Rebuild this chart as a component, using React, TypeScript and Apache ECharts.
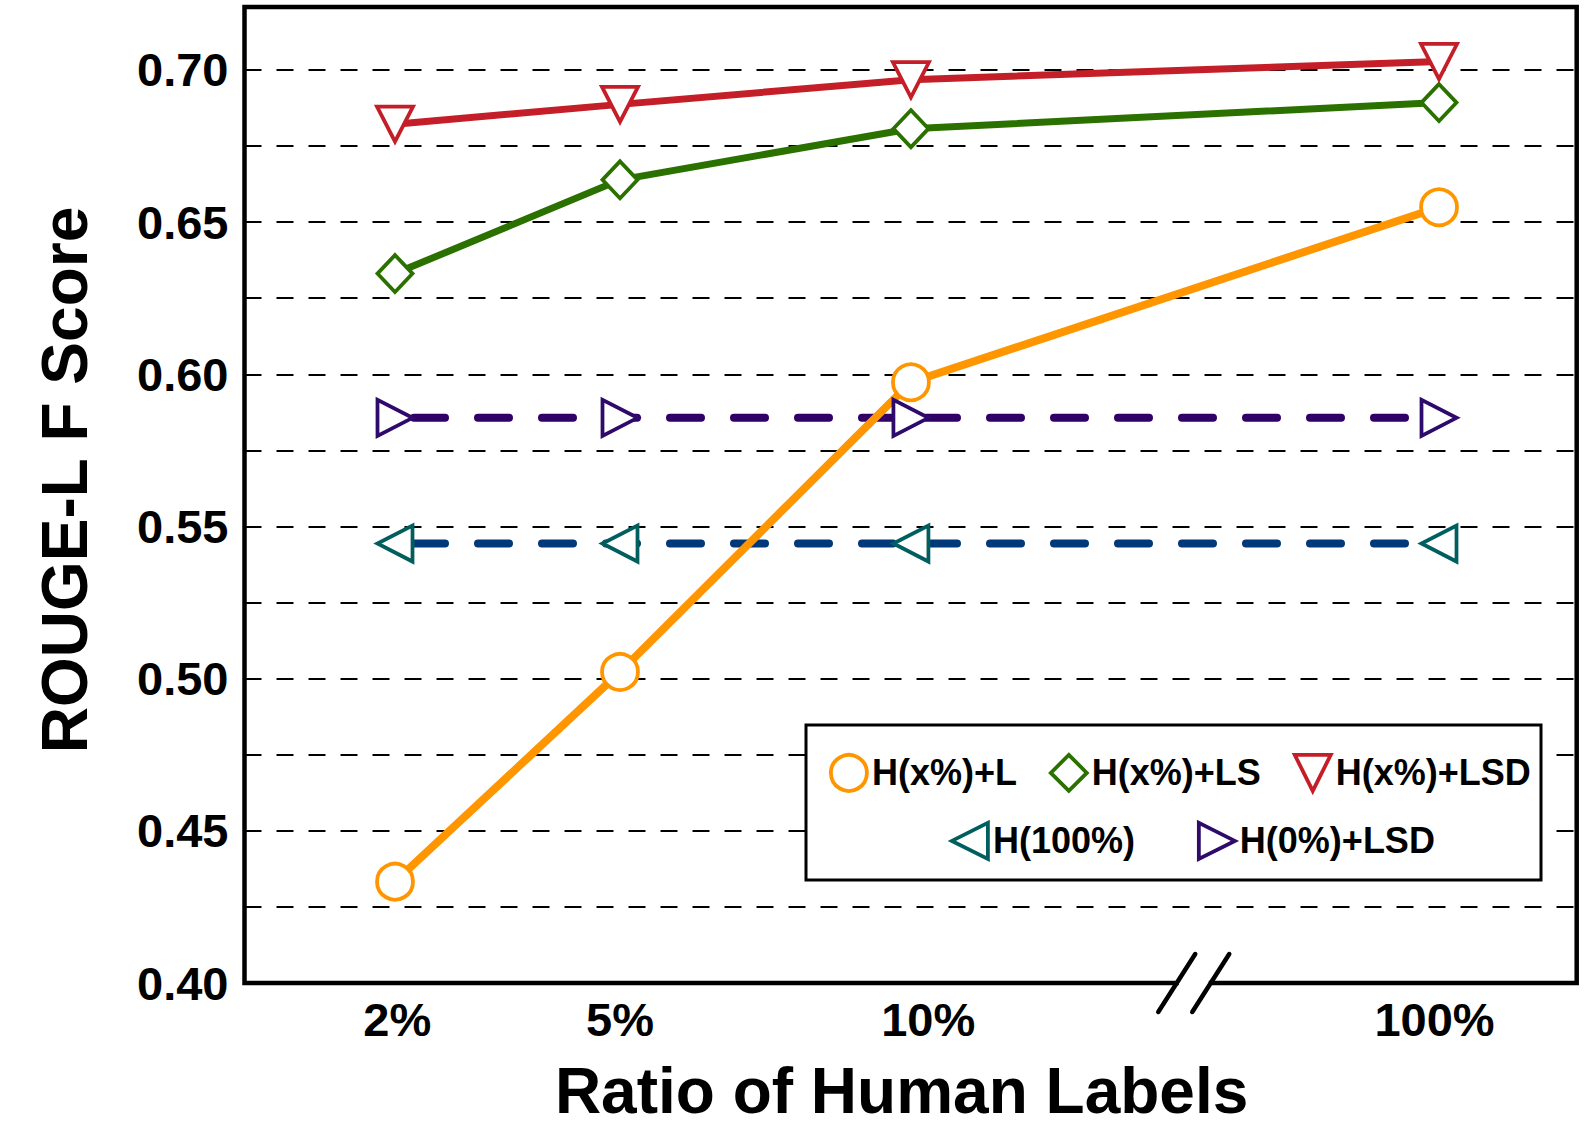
import React, { useEffect, useRef } from 'react';
import * as echarts from 'echarts';

// ---- data ----
const categories = ['2%', '5%', '10%', '100%'];
const xPositions = [0, 1, 2.293, 4.64];
const xTickPositions = [0.01, 1.0, 2.37, 4.62];
const yTickLabels = ['0.40', '0.45', '0.50', '0.55', '0.60', '0.65', '0.70'];
const seriesNames = ['H(x%)+L', 'H(x%)+LS', 'H(x%)+LSD', 'H(100%)', 'H(0%)+LSD'];
const hxL = [0.4333, 0.5022, 0.5974, 0.6549];
const hxLS = [0.6331, 0.6639, 0.6807, 0.6893];
const hxLSD = [0.6822, 0.6887, 0.6968, 0.7028];
const h100 = [0.5444, 0.5444, 0.5444, 0.5444];
const h0LSD = [0.5857, 0.5857, 0.5857, 0.5857];
const breakAt = 3.55;

const FONT = '"Liberation Sans", Arial, Helvetica, sans-serif';
const TRI_DOWN = 'path://M0,0L10,0L5,10Z';
const TRI_LEFT = 'path://M10,0L10,10L0,5Z';
const TRI_RIGHT = 'path://M0,0L0,10L10,5Z';

const C_ORANGE = '#FF9600';
const C_GREEN = '#2B7100';
const C_RED = '#C41F28';
const C_TEAL = '#005E5E';
const C_NAVY = '#00387A';
const C_PURPLE = '#2E0A6A';
const C_PURPLE_LINE = '#300066';

const toPairs = (vals: number[]) => xPositions.map((x, i) => [x, vals[i]]);

function makeSeries(
  name: string,
  vals: number[],
  symbol: string,
  symbolSize: number | number[],
  markerColor: string,
  lineColor: string,
  width: number,
  dashed: boolean,
) {
  return {
    name,
    type: 'line',
    data: toPairs(vals),
    symbol,
    symbolSize,
    showSymbol: true,
    showAllSymbol: true,
    lineStyle: dashed
      ? { color: lineColor, width, type: [31, 33], cap: 'round', dashOffset: 44.5 }
      : { color: lineColor, width, type: 'solid', cap: 'round', join: 'round' },
    itemStyle: { color: '#ffffff', borderColor: markerColor, borderWidth: 3.8 },
    emphasis: { disabled: true },
    silent: true,
  };
}

const legendItem = (name: string, icon: string, color: string) => ({
  name,
  icon,
  itemStyle: { color: '#ffffff', borderColor: color, borderWidth: 3.8 },
});

const legendCommon = {
  orient: 'horizontal',
  itemWidth: 36,
  itemHeight: 36,
  itemGap: 32,
  selectedMode: false,
  z: 10,
  padding: 0,
  textStyle: { fontSize: 36, fontWeight: 'bold', color: '#000', fontFamily: FONT },
};

export default function App() {
  const ref = useRef<HTMLDivElement>(null);

  useEffect(() => {
    document.body.style.margin = '0';
    document.body.style.overflow = 'hidden';
    const chart = echarts.init(ref.current as HTMLDivElement, null, { renderer: 'svg' });
    const option: any = {
      animation: false,
      backgroundColor: '#ffffff',
      grid: {
        left: 244.5,
        top: 7,
        right: 7.3,
        bottom: 165,
        show: true,
        borderColor: '#000',
        borderWidth: 4.5,
        backgroundColor: 'transparent',
      },
      xAxis: {
        type: 'value',
        min: -0.6689,
        max: 5.252,
        axisLine: { show: false },
        axisTick: { show: false },
        splitLine: { show: false },
        axisLabel: {
          customValues: xTickPositions,
          formatter: (v: number) => {
            const i = xTickPositions.findIndex((p) => Math.abs(p - v) < 1e-6);
            return i >= 0 ? categories[i] : '';
          },
          fontSize: 47,
          fontWeight: 'bold',
          color: '#000',
          fontFamily: FONT,
          margin: 13,
        },
        name: 'Ratio of Human Labels',
        nameLocation: 'middle',
        nameGap: 76,
        nameTextStyle: {
          fontSize: 64,
          fontWeight: 'bold',
          color: '#000',
          fontFamily: FONT,
          padding: [0, 18, 0, 0],
        },
      },
      yAxis: {
        type: 'value',
        min: 0.4,
        max: 0.7207,
        interval: 0.025,
        axisLine: { show: false },
        axisTick: { show: false },
        splitLine: { show: true, lineStyle: { color: '#000', width: 2, type: [17, 15] } },
        axisLabel: {
          showMaxLabel: false,
          formatter: (v: number) => {
            const s = v.toFixed(2);
            return yTickLabels.includes(s) && Math.abs(v * 40 - Math.round(v * 40)) < 1e-6 ? s : '';
          },
          fontSize: 47,
          fontWeight: 'bold',
          color: '#000',
          fontFamily: FONT,
          margin: 16,
        },
        name: 'ROUGE-L F Score',
        nameLocation: 'middle',
        nameGap: 148,
        nameTextStyle: {
          fontSize: 64,
          fontWeight: 'bold',
          color: '#000',
          fontFamily: FONT,
          padding: [0, 0, 0, 30],
        },
      },
      legend: [
        {
          ...legendCommon,
          left: 829,
          top: 753,
          data: [
            legendItem(seriesNames[0], 'circle', C_ORANGE),
            legendItem(seriesNames[1], 'diamond', C_GREEN),
            legendItem(seriesNames[2], TRI_DOWN, C_RED),
          ],
        },
        {
          ...legendCommon,
          left: 950,
          top: 821,
          itemGap: 62,
          data: [legendItem(seriesNames[3], TRI_LEFT, C_TEAL), legendItem(seriesNames[4], TRI_RIGHT, C_PURPLE)],
        },
      ],
      series: [
        makeSeries(seriesNames[3], h100, TRI_LEFT, [35, 36], C_TEAL, C_NAVY, 8, true),
        makeSeries(seriesNames[4], h0LSD, TRI_RIGHT, [35, 36], C_PURPLE, C_PURPLE_LINE, 8, true),
        makeSeries(seriesNames[1], hxLS, 'diamond', [35, 37], C_GREEN, C_GREEN, 7, false),
        makeSeries(seriesNames[2], hxLSD, TRI_DOWN, [36, 35], C_RED, C_RED, 7, false),
        makeSeries(seriesNames[0], hxL, 'circle', 36, C_ORANGE, C_ORANGE, 8, false),
      ],
    };
    chart.setOption(option);

    const p = chart.convertToPixel({ xAxisIndex: 0, yAxisIndex: 0 }, [breakAt, 0.4]) as number[];
    const bx = p[0];
    const by = p[1];
    const half = 17;
    chart.setOption({
      graphic: [
        {
          id: 'legendBox',
          type: 'rect',
          z: 5,
          shape: { x: 806, y: 725, width: 735, height: 155 },
          style: { fill: '#ffffff', stroke: '#000', lineWidth: 3 },
          silent: true,
        },
        {
          id: 'breakGap',
          type: 'rect',
          z: 20,
          shape: { x: bx - half + 2, y: by - 5, width: 2 * half - 4, height: 10 },
          style: { fill: '#ffffff' },
          silent: true,
        },
        {
          id: 'slash1',
          type: 'line',
          z: 21,
          shape: { x1: bx - half - 18.5, y1: by + 29, x2: bx - half + 18.5, y2: by - 29 },
          style: { stroke: '#000', lineWidth: 4.5, lineCap: 'round' },
          silent: true,
        },
        {
          id: 'slash2',
          type: 'line',
          z: 21,
          shape: { x1: bx + half - 18.5, y1: by + 29, x2: bx + half + 18.5, y2: by - 29 },
          style: { stroke: '#000', lineWidth: 4.5, lineCap: 'round' },
          silent: true,
        },
      ],
    });

    return () => chart.dispose();
  }, []);

  return <div ref={ref} style={{ width: 1584, height: 1148 }} />;
}
